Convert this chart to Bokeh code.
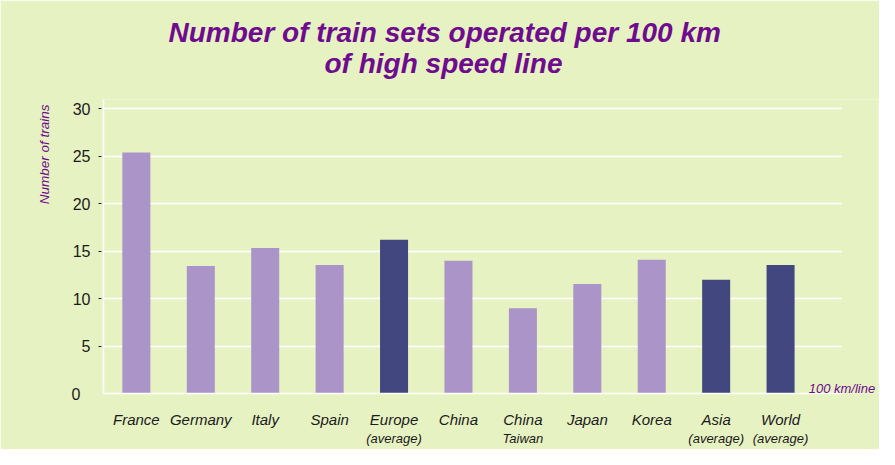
from bokeh.plotting import figure
from bokeh.models import Label, FixedTicker, Range1d, ColumnDataSource, LinearAxis, Title
from bokeh.embed import file_html
from bokeh.resources import INLINE

# ---- data ----
name_line1 = ["France", "Germany", "Italy", "Spain", "Europe", "China",
              "China", "Japan", "Korea", "Asia", "World"]
name_line2 = ["", "", "", "", "(average)", "", "Taiwan", "", "", "(average)", "(average)"]
trains_per_100km = [25.4, 13.45, 15.35, 13.55, 16.2, 14.0, 9.0, 11.55, 14.1, 12.0, 13.55]
is_average = [False, False, False, False, True, False, False, False, False, True, True]
y_ticks = [5, 10, 15, 20, 25, 30]
zero_tick = [0]

title_line1 = "Number of train sets operated per 100 km"
title_line2 = "of high speed line"
y_label = "Number of trains"
x_unit_label = "100 km/line"

# ---- styles ----
BG = "#E7F2C3"
LIGHT = "#AA94C8"
DARK = "#42477F"
PURPLE = "#6E0B8E"
FONT = "Liberation Sans"
TXT = "#1a1a1a"

xs = list(range(len(name_line1)))
colors = [DARK if a else LIGHT for a in is_average]
src = ColumnDataSource(dict(x=xs, value=trains_per_100km, color=colors))

p = figure(width=879, height=449,
           x_range=Range1d(-0.51, 11.52), y_range=Range1d(0, 31),
           output_backend="svg", toolbar_location=None,
           min_border_left=103, min_border_right=1,
           min_border_top=99, min_border_bottom=56)

p.background_fill_color = BG
p.border_fill_color = BG
p.outline_line_color = None

p.vbar(x="x", top="value", width=0.435, fill_color="color",
       line_color=None, source=src)

# grid
p.xgrid.visible = False
p.ygrid.ticker = FixedTicker(ticks=y_ticks)
p.ygrid.grid_line_color = "white"
p.ygrid.grid_line_width = 1.5
p.ygrid.cross_bounds = (-0.51, 10.95)

# y axis
ya = p.yaxis[0]
ya.ticker = FixedTicker(ticks=y_ticks)
ya.axis_line_color = "white"
ya.axis_line_width = 1.5
ya.major_tick_line_color = "#222222"
ya.major_tick_in = -2
ya.major_tick_out = 5
ya.minor_tick_line_color = None
ya.major_label_text_font = FONT
ya.major_label_text_font_size = "16px"
ya.major_label_text_color = TXT
ya.major_label_standoff = 8

# extra axis holding the "0" label, further left
za = LinearAxis(ticker=FixedTicker(ticks=zero_tick), axis_line_color=None,
                major_tick_line_color=None, minor_tick_line_color=None,
                major_tick_in=0, major_tick_out=0, major_label_standoff=-11,
                major_label_text_font=FONT, major_label_text_font_size="16px",
                major_label_text_color=TXT)
p.add_layout(za, "left")

# y axis title
p.add_layout(Title(text=y_label, align="right", offset=5, standoff=33,
                   text_font=FONT, text_font_size="13.5px",
                   text_font_style="italic", text_color=PURPLE), "left")

# x axis (first line of names)
xa = p.xaxis[0]
xa.ticker = FixedTicker(ticks=xs)
xa.major_label_overrides = {i: n for i, n in zip(xs, name_line1)}
xa.bounds = (-0.51, 10.95)
xa.axis_line_color = "white"
xa.axis_line_width = 1.5
xa.major_tick_line_color = None
xa.minor_tick_line_color = None
xa.major_tick_out = 0
xa.major_tick_in = 0
xa.major_label_standoff = 17
xa.major_label_text_font = FONT
xa.major_label_text_font_size = "15px"
xa.major_label_text_font_style = "italic"
xa.major_label_text_color = TXT

# second line of names
idx2 = [i for i, n in zip(xs, name_line2) if n]
xa2 = LinearAxis(ticker=FixedTicker(ticks=idx2),
                 major_label_overrides={i: name_line2[i] for i in idx2},
                 axis_line_color=None, major_tick_line_color=None,
                 minor_tick_line_color=None, major_tick_in=0, major_tick_out=0,
                 major_label_standoff=0, major_label_text_font=FONT,
                 major_label_text_font_size="13px",
                 major_label_text_font_style="italic",
                 major_label_text_color=TXT)
p.add_layout(xa2, "below")

# title (two lines): p.title is the outer one, the added Title sits nearer the frame
p.title.text = title_line1
p.title.align = "left"
p.title.offset = 65
p.title.standoff = -47
p.title.text_font = FONT
p.title.text_font_size = "28px"
p.title.text_font_style = "bold italic"
p.title.text_color = PURPLE
p.add_layout(Title(text=title_line2, align="left", offset=221, standoff=42,
                   text_font=FONT, text_font_size="28px",
                   text_font_style="bold italic", text_color=PURPLE), "above")

# unit label
p.add_layout(Label(x=10.437, y=0.53, text=x_unit_label, text_font=FONT,
                   text_font_size="13px", text_font_style="italic",
                   text_color=PURPLE, text_align="left",
                   text_baseline="alphabetic"))

open("out.html", "w").write(file_html(p, INLINE))
